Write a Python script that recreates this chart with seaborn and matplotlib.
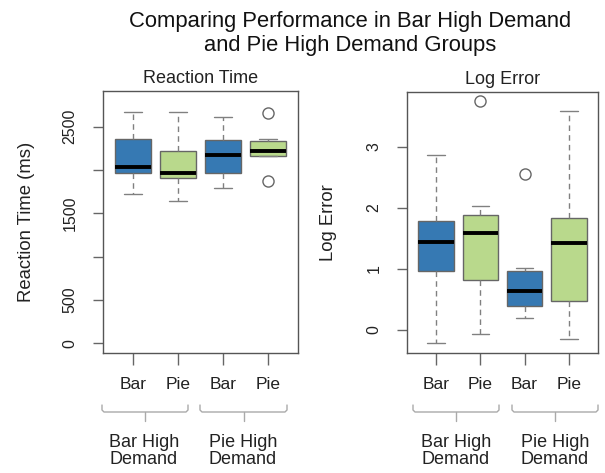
import numpy as np
import pandas as pd
import matplotlib
matplotlib.use("Agg")
import matplotlib.pyplot as plt
import seaborn as sns
from matplotlib.lines import Line2D

# ---------------- data ----------------
conditions = ["Bar HD / Bar", "Bar HD / Pie", "Pie HD / Bar", "Pie HD / Pie"]
chart_labels = ["Bar", "Pie", "Bar", "Pie"]
group_labels = ["Bar High\nDemand", "Pie High\nDemand"]

# Reaction time (ms) observations per condition
rt_barhd_bar = [1722, 1968, 2037, 2360, 2671]
rt_barhd_pie = [1641, 1910, 1968, 2222, 2671]
rt_piehd_bar = [1795, 1961, 2176, 2345, 2614]
rt_piehd_pie = [1876, 2157, 2164, 2222, 2222, 2330, 2330, 2353, 2660]

# Log error observations per condition
le_barhd_bar = [-0.22, 0.97, 1.44, 1.79, 2.86]
le_barhd_pie = [-0.06, 0.82, 0.82, 1.59, 1.59, 1.89, 1.89, 2.04, 3.76]
le_piehd_bar = [0.20, 0.39, 0.39, 0.64, 0.64, 0.97, 0.97, 1.01, 2.55]
le_piehd_pie = [-0.15, 0.48, 1.43, 1.84, 3.59]

rt_ticks = [0, 500, 1000, 1500, 2000, 2500]
rt_ticklabels = ["0", "500", "", "1500", "", "2500"]
le_ticks = [0, 1, 2, 3]
le_ticklabels = ["0", "1", "2", "3"]

BLUE = "#3679B3"
GREEN = "#B9D98C"
palette = [BLUE, GREEN, BLUE, GREEN]

# ---------------- style ----------------
sns.set_theme(style="white")
plt.rcParams['font.family'] = ['Liberation Sans', 'DejaVu Sans']

W, H = 605, 473
fig = plt.figure(figsize=(W / 100, H / 100), dpi=100)


def px_axes(x0, y0, x1, y1):
    return fig.add_axes([x0 / W, 1 - y1 / H, (x1 - x0) / W, (y1 - y0) / H])


def make_df(arrays):
    return pd.DataFrame({
        "cond": np.concatenate([[c] * len(a) for c, a in zip(conditions, arrays)]),
        "value": np.concatenate([np.asarray(a, float) for a in arrays]),
    })


def draw_panel(ax, arrays, title, ylabel, ylabel_x, ylim, ticks, ticklabels):
    df = make_df(arrays)
    sns.boxplot(
        data=df, x="cond", y="value", hue="cond",
        order=conditions, hue_order=conditions, palette=palette,
        legend=False, saturation=1, width=0.8, whis=1.5,
        linecolor="#666666", linewidth=1,
        whiskerprops=dict(linestyle=(0, (4, 3)), color="#808080", linewidth=1),
        capprops=dict(color="#808080", linewidth=1),
        medianprops=dict(color="black", linewidth=2.8),
        flierprops=dict(marker="o", markersize=8, markerfacecolor="none",
                        markeredgecolor="#666666", markeredgewidth=1),
        ax=ax,
    )
    ax.set_xlim(-0.66, 3.66)
    ax.set_ylim(*ylim)
    ax.set_yticks(ticks)
    ax.set_yticklabels(ticklabels)
    ax.set_xticks(range(4))
    ax.set_xticklabels(chart_labels)
    ax.tick_params(axis="y", length=7.2, width=1, color="#666666", pad=11,
                   labelsize=11.5, labelcolor="#222222", left=True)
    ax.tick_params(axis="x", length=8.6, width=1, color="#666666", pad=9,
                   labelsize=12.5, labelcolor="#222222", bottom=True)
    for lbl in ax.get_yticklabels():
        lbl.set_rotation(90)
        lbl.set_va("center")
    for s in ax.spines.values():
        s.set_visible(True)
        s.set_color("#555555")
        s.set_linewidth(1)
    ax.set_xlabel("")
    ax.set_ylabel(ylabel, fontsize=13.3, color="#222222")
    ax.yaxis.set_label_coords(ylabel_x, 0.5)
    ax.set_title(title, fontsize=13, pad=6, color="#222222")


ax1 = px_axes(103, 91, 298, 353)
draw_panel(ax1, [rt_barhd_bar, rt_barhd_pie, rt_piehd_bar, rt_piehd_pie],
           "Reaction Time", "Reaction Time (ms)", -0.349, (-112, 2910),
           rt_ticks, rt_ticklabels)

ax2 = px_axes(407, 92, 598, 353)
draw_panel(ax2, [le_barhd_bar, le_barhd_pie, le_piehd_bar, le_piehd_pie],
           "Log Error", "Log Error", -0.366, (-0.377, 3.90),
           le_ticks, le_ticklabels)

# ---------------- title ----------------
fig.text(350 / W, 1 - 10.5 / H,
         "Comparing Performance in Bar High Demand\nand Pie High Demand Groups",
         ha="center", va="top", fontsize=15.8, linespacing=1.25, color="#111111")

# ---------------- group brackets ----------------
def bracket(x1, x2, xc):
    fx = lambda v: v / W
    fy = lambda v: 1 - v / H
    xs = [x1, x1, x1 + 2, x2 - 2, x2, x2]
    ys = [405, 410, 412, 412, 410, 405]
    fig.add_artist(Line2D([fx(v) for v in xs], [fy(v) for v in ys],
                          transform=fig.transFigure, color="#aaaaaa", lw=1))
    fig.add_artist(Line2D([fx(xc), fx(xc)], [fy(412), fy(421)],
                          transform=fig.transFigure, color="#aaaaaa", lw=1))


for (x1, x2, xc), lab_x, lab in [
    ((102, 188, 145), 144, group_labels[0]),
    ((200, 287, 244), 243, group_labels[1]),
    ((413, 499, 456), 456, group_labels[0]),
    ((512, 598, 555), 555, group_labels[1]),
]:
    bracket(x1, x2, xc)
    fig.text(lab_x / W, 1 - 451 / H, lab, ha="center", va="center",
             fontsize=13, linespacing=1.0, color="#222222")

fig.savefig("out.png", dpi=100)
